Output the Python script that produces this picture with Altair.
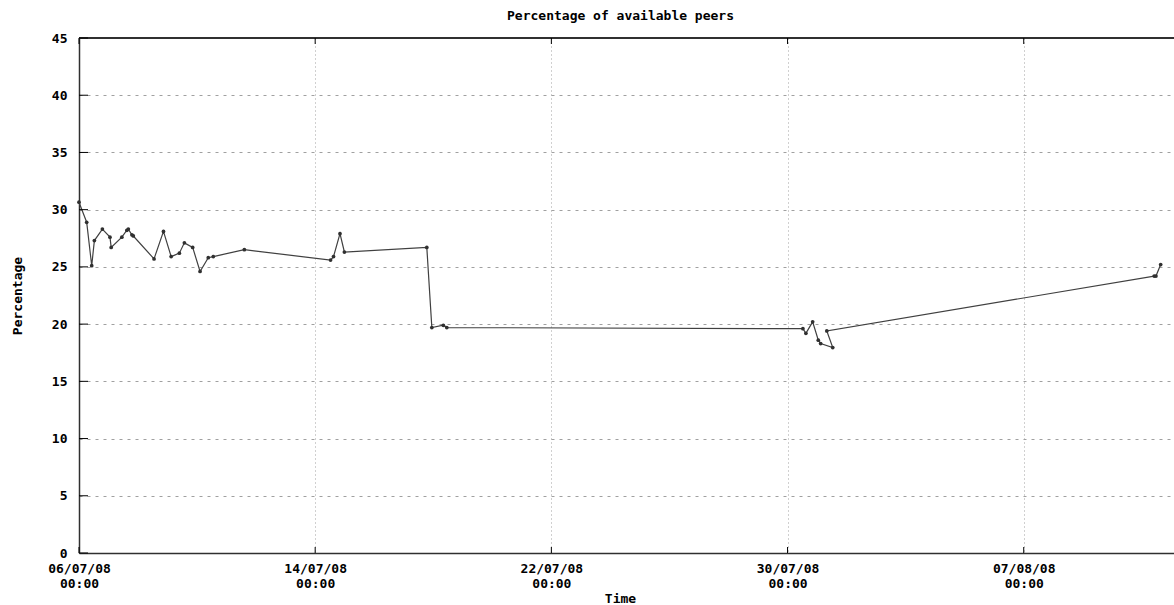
import altair as alt
import pandas as pd

# ---- data ----
times = [
    "2008-07-06T00:00", "2008-07-06T06:15", "2008-07-06T10:20", "2008-07-06T12:30",
    "2008-07-06T19:00", "2008-07-07T01:10", "2008-07-07T02:10", "2008-07-07T10:50",
    "2008-07-07T14:55", "2008-07-07T16:05", "2008-07-07T19:00", "2008-07-07T20:10",
    "2008-07-08T13:00", "2008-07-08T20:40", "2008-07-09T02:55", "2008-07-09T09:35",
    "2008-07-09T13:40", "2008-07-09T20:25", "2008-07-10T02:25", "2008-07-10T09:05",
    "2008-07-10T13:10", "2008-07-11T14:25", "2008-07-14T12:30", "2008-07-14T14:55",
    "2008-07-14T20:10", "2008-07-14T23:45", "2008-07-17T18:45", "2008-07-17T22:50",
    "2008-07-18T08:10", "2008-07-18T11:00", "2008-07-30T12:30", "2008-07-30T14:55",
    "2008-07-30T20:25", "2008-07-31T01:00", "2008-07-31T02:55", "2008-07-31T12:45",
    "2008-07-31T07:55", "2008-08-11T10:05", "2008-08-11T11:30", "2008-08-11T15:20",
]
percentages = [
    30.65, 28.9, 25.1, 27.3, 28.3, 27.6, 26.7, 27.6, 28.2, 28.3,
    27.8, 27.7, 25.7, 28.1, 25.9, 26.2, 27.1, 26.7, 24.6, 25.8,
    25.9, 26.5, 25.6, 25.9, 27.9, 26.3, 26.7, 19.7, 19.9, 19.7,
    19.6, 19.2, 20.2, 18.6, 18.3, 17.95, 19.4, 24.2, 24.2, 25.2,
]
x_tick_dates = ["2008-07-06T00:00", "2008-07-14T00:00", "2008-07-22T00:00",
                "2008-07-30T00:00", "2008-08-07T00:00"]
y_tick_values = [0, 5, 10, 15, 20, 25, 30, 35, 40, 45]
y_top = [45]

df = pd.DataFrame({"time": times, "pct": percentages, "idx": list(range(len(times)))})
xt = pd.DataFrame({"time": x_tick_dates})
yt = pd.DataFrame({"pct": y_tick_values})
ytop = pd.DataFrame({"pct": y_top})

FONT = "DejaVu Sans Mono"
W, H = 1095, 515

x_scale = alt.Scale(
    domain=[alt.DateTime(year=2008, month=7, date=6),
            alt.DateTime(year=2008, month=8, date=12, hours=2, minutes=10)],
    nice=False,
)
y_scale = alt.Scale(domain=[0, 45], nice=False, zero=True)

x_axis = alt.Axis(
    values=[alt.DateTime(year=2008, month=7, date=6), alt.DateTime(year=2008, month=7, date=14),
            alt.DateTime(year=2008, month=7, date=22), alt.DateTime(year=2008, month=7, date=30),
            alt.DateTime(year=2008, month=8, date=7)],
    labelExpr="[timeFormat(datum.value, '%d/%m/%y'), timeFormat(datum.value, '%H:%M')]",
    labelFont=FONT, labelFontSize=13, labelFontWeight="bold", labelColor="black",
    labelLineHeight=15, labelPadding=9, labelFlush=False, labelOverlap=False,
    tickSize=0, domainColor="#303030", domainWidth=1.5,
    grid=True, gridColor="#a0a0a0", gridDash=[1, 3], gridWidth=1,
    title="Time", titleFont=FONT, titleFontSize=13, titleFontWeight="bold",
    titleColor="black", titleX=541, titleY=45, titleBaseline="middle", titleAnchor="start",
    titleAlign="center",
)
y_axis = alt.Axis(
    values=y_tick_values,
    labelFont=FONT, labelFontSize=13, labelFontWeight="bold", labelColor="black",
    labelPadding=12, tickSize=0, domainColor="#303030", domainWidth=1.5,
    grid=True, gridColor="#a0a0a0", gridDash=[3, 5], gridWidth=1,
    title="Percentage", titleFont=FONT, titleFontSize=13, titleFontWeight="bold",
    titleColor="black", titleAngle=270, titleX=-62, titleY=H / 2,
    titleBaseline="middle", titleAlign="center", titleAnchor="start",
)

line = alt.Chart(df).mark_line(color="#404040", strokeWidth=1.2).encode(
    x=alt.X("time:T", scale=x_scale, axis=x_axis),
    y=alt.Y("pct:Q", scale=y_scale, axis=y_axis),
    order=alt.Order("idx:Q"),
)
points = alt.Chart(df).mark_circle(color="#303030", size=14, opacity=1).encode(
    x=alt.X("time:T", scale=x_scale),
    y=alt.Y("pct:Q", scale=y_scale),
)

top_border = alt.Chart(ytop).mark_rule(color="#303030", strokeWidth=2).encode(
    y=alt.Y("pct:Q", scale=y_scale), x=alt.value(0), x2=alt.value(W)
)
x_ticks_bottom = alt.Chart(xt).mark_rule(color="black", strokeWidth=1).encode(
    x=alt.X("time:T", scale=x_scale), y=alt.value(H), y2=alt.value(H - 6)
)
x_ticks_top = alt.Chart(xt).mark_rule(color="black", strokeWidth=1).encode(
    x=alt.X("time:T", scale=x_scale), y=alt.value(0), y2=alt.value(6)
)
y_ticks_left = alt.Chart(yt).mark_rule(color="black", strokeWidth=1).encode(
    y=alt.Y("pct:Q", scale=y_scale), x=alt.value(0), x2=alt.value(9)
)

chart = alt.layer(
    line, points, top_border, x_ticks_bottom, x_ticks_top, y_ticks_left
).properties(
    width=W, height=H,
    title=alt.TitleParams(
        "Percentage of available peers", font=FONT, fontSize=13, fontWeight="bold",
        color="black", anchor="middle", dx=-6, offset=9,
    ),
    autosize=alt.AutoSizeParams(type="none"),
    padding={"left": 79, "top": 38, "right": 0, "bottom": 52},
).configure_view(strokeWidth=0).configure(background="white")

chart.save("out.html", embed_options={"renderer": "svg", "actions": False})
